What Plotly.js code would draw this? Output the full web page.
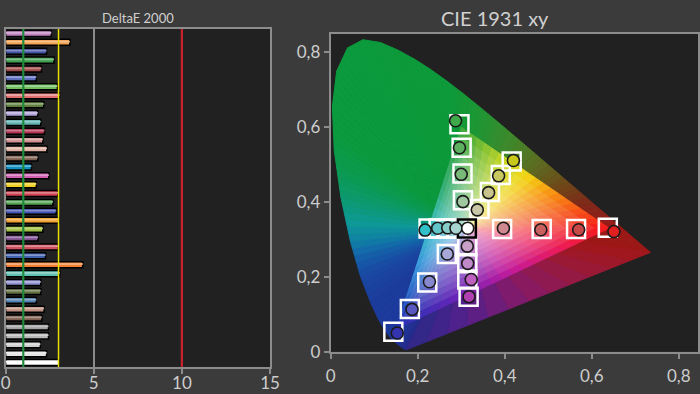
<!DOCTYPE html>
<html><head><meta charset="utf-8">
<script src="https://cdn.plot.ly/plotly-3.0.1.min.js"></script>
<style>html,body{margin:0;padding:0;background:#3b3b3b;}#chart{width:700px;height:394px;}</style>
</head><body><div id="chart"></div>
<script>
// ---- DeltaE 2000 bars (top to bottom) ----
const deltaE = [2.59,3.64,2.32,2.74,2.03,1.74,2.93,3.05,2.16,1.82,1.99,2.20,2.11,2.34,1.82,1.46,2.45,1.74,2.97,
                2.68,2.87,3.03,2.11,1.84,2.99,2.26,4.37,3.07,1.99,1.99,1.74,2.18,2.05,2.43,2.43,1.97,2.32,3.03];
const barColors = ['#c080c0','#f0a050','#4050a0','#40a050','#a04848','#6070c0','#70c060','#e07070','#608040','#b0a0d8',
                   '#60b0b0','#b03050','#d09090','#e0b0a0','#806050','#1090c0','#d060b0','#f0d020','#d04050',
                   '#50a050','#4050b0','#f0a030','#a0c040','#805090','#d05060','#4060b0','#f08030','#60c0b0','#9090d0',
                   '#607040','#5080b0','#c09080','#806050','#a0a0a0','#b8b8b8','#d0d0d0','#e4e4e4','#ffffff'];
const deTicks = [0,5,10,15];
const refLines = [1,3,10];
const refLineColors = ['#1f8a3c','#e8e000','#c8202c'];

// ---- CIE 1931 xy: targets (squares) and measurements (circles) ----
const targetX = [0.296,0.301,0.303,0.304, 0.416,0.391,0.366,0.342, 0.394,0.485,0.564,0.637, 0.225,0.248,0.270,0.290, 0.267,0.222,0.182,0.144, 0.314,0.314,0.314,0.317, 0.313];
const targetY = [0.608,0.545,0.476,0.405, 0.508,0.472,0.427,0.381, 0.328,0.328,0.328,0.331, 0.329,0.329,0.329,0.329, 0.261,0.185,0.114,0.053, 0.282,0.236,0.193,0.147, 0.329];
const measX   = [0.287,0.296,0.300,0.304, 0.420,0.386,0.363,0.337, 0.397,0.483,0.570,0.651, 0.217,0.246,0.269,0.288, 0.268,0.227,0.187,0.153, 0.314,0.315,0.323,0.318, 0.315];
const measY   = [0.617,0.545,0.474,0.401, 0.511,0.470,0.425,0.379, 0.330,0.326,0.326,0.321, 0.325,0.330,0.331,0.330, 0.261,0.187,0.113,0.050, 0.282,0.236,0.193,0.147, 0.330];
const pointColors = ['#3ea84a','#5cb060','#78b878','#a0c8a0', '#c8c818','#c8c860','#c8c48c','#c8c8a8',
                     '#d08890','#c86060','#c84848','#e02020', '#30c0c8','#60c4c8','#88ccc8','#a8d4d0',
                     '#a8a8d8','#8888d0','#5858c0','#3434b0', '#c8a0c8','#c088c8','#c060c0','#b040b0', '#ffffff'];
const cieTickVals = [0,0.2,0.4,0.6,0.8];
const cieTickText = ['0','0,2','0,4','0,6','0,8'];

// ---- CIE 1931 spectral locus (2 deg observer) ----
const locusWl = [380,385,390,395,400,405,410,415,420,425,430,435,440,445,450,455,460,465,470,475,480,485,490,495,500,505,510,515,520,525,530,535,540,545,550,555,560,565,570,575,580,585,590,595,600,605,610,615,620,625,630,635,640,645,650,660,680,700];
const locusX = [0.1741,0.1740,0.1738,0.1736,0.1733,0.1730,0.1726,0.1721,0.1714,0.1703,0.1689,0.1669,0.1644,0.1611,0.1566,0.1510,0.1440,0.1355,0.1241,0.1096,0.0913,0.0687,0.0454,0.0235,0.0082,0.0039,0.0139,0.0389,0.0743,0.1142,0.1547,0.1929,0.2296,0.2658,0.3016,0.3373,0.3731,0.4087,0.4441,0.4788,0.5125,0.5448,0.5752,0.6029,0.6270,0.6482,0.6658,0.6801,0.6915,0.7006,0.7079,0.7140,0.7190,0.7230,0.7260,0.7300,0.7334,0.7347];
const locusY = [0.0050,0.0050,0.0049,0.0049,0.0048,0.0048,0.0048,0.0048,0.0051,0.0058,0.0069,0.0086,0.0109,0.0138,0.0177,0.0227,0.0297,0.0399,0.0578,0.0868,0.1327,0.2007,0.2950,0.4127,0.5384,0.6548,0.7502,0.8120,0.8338,0.8262,0.8059,0.7816,0.7543,0.7243,0.6923,0.6589,0.6245,0.5896,0.5547,0.5202,0.4866,0.4544,0.4242,0.3965,0.3725,0.3514,0.3340,0.3197,0.3083,0.2993,0.2920,0.2859,0.2809,0.2770,0.2740,0.2700,0.2666,0.2653];
const gamutX = [0.64,0.30,0.15];
const gamutY = [0.33,0.60,0.06];
const whiteX = 0.3127, whiteY = 0.3290;

// ---- colour helpers (styling only) ----
function h2r(h){return [parseInt(h.slice(1,3),16),parseInt(h.slice(3,5),16),parseInt(h.slice(5,7),16)];}
function ramp(stops,t){
  if(t<=stops[0][0]) return stops[0][1];
  for(let i=1;i<stops.length;i++){
    if(t<=stops[i][0]){
      const a=stops[i-1],b=stops[i],f=(t-a[0])/(b[0]-a[0]);
      const ca=h2r(a[1]),cb=h2r(b[1]);
      return 'rgb('+ca.map((v,k)=>Math.round(v+(cb[k]-v)*f)).join(',')+')';
    }
  }
  return stops[stops.length-1][1];
}
function lighten(h,f){const c=h2r(h);return 'rgb('+c.map(v=>Math.round(v+(255-v)*f)).join(',')+')';}
const outerStops = [[380,'#2c2888'],[430,'#262c8c'],[455,'#203496'],[470,'#1c3a9c'],[480,'#1c3c9c'],[485,'#1a48a2'],[488,'#1464aa'],[490,'#1080a4'],[492,'#0e9898'],[495,'#0c9a70'],[498,'#0b9a50'],[502,'#0b9a3e'],[545,'#0c9a3a'],[556,'#1e9634'],[566,'#3c8a2c'],[575,'#5a7022'],[585,'#6e4a18'],[595,'#80281a'],[610,'#9a1a18'],[700,'#a21818']];
const purpleStops = [[0,'#a21818'],[0.25,'#981a3c'],[0.5,'#861a66'],[0.75,'#56208a'],[1,'#2c2888']];
const edgeStops = [
  [[0,'#f41c1c'],[0.2,'#f65a18'],[0.4,'#f8a014'],[0.55,'#f2d818'],[0.7,'#c8d828'],[1,'#3aa840']],
  [[0,'#3aa840'],[0.3,'#38b078'],[0.5,'#40c0c8'],[0.7,'#3c98dc'],[1,'#2434b4']],
  [[0,'#2434b4'],[0.3,'#6c24b8'],[0.55,'#c41c9c'],[0.8,'#ec1c58'],[1,'#f41c1c']]
];

const traces = [];
function wedge(x1,y1,x2,y2,col){
  traces.push({type:'scatter',mode:'lines',xaxis:'x2',yaxis:'y2',x:[whiteX,x1,x2,whiteX],y:[whiteY,y1,y2,whiteY],
    fill:'toself',fillcolor:col,line:{color:col,width:1},hoverinfo:'skip'});
}
// outer horseshoe fan (segments split for a smoother gradient)
for(let i=0;i<locusX.length-1;i++){
  const dx=locusX[i+1]-locusX[i],dy=locusY[i+1]-locusY[i];
  const m=Math.max(1,Math.ceil(Math.hypot(dx,dy)/0.02));
  for(let j=0;j<m;j++){
    const t0=j/m,t1=(j+1)/m;
    wedge(locusX[i]+dx*t0,locusY[i]+dy*t0,locusX[i]+dx*t1,locusY[i]+dy*t1,
      ramp(outerStops,locusWl[i]+(locusWl[i+1]-locusWl[i])*(t0+t1)/2));
  }
}
const nP=12, n=locusX.length-1;
for(let k=0;k<nP;k++){
  const t0=k/nP,t1=(k+1)/nP;
  wedge(locusX[n]+(locusX[0]-locusX[n])*t0,locusY[n]+(locusY[0]-locusY[n])*t0,
        locusX[n]+(locusX[0]-locusX[n])*t1,locusY[n]+(locusY[0]-locusY[n])*t1,ramp(purpleStops,(t0+t1)/2));
}
// inner gamut triangle fan
const nE=20;
for(let e=0;e<3;e++){
  const ax=gamutX[e],ay=gamutY[e],bx=gamutX[(e+1)%3],by=gamutY[(e+1)%3];
  for(let k=0;k<nE;k++){
    const t0=k/nE,t1=(k+1)/nE;
    wedge(ax+(bx-ax)*t0,ay+(by-ay)*t0,ax+(bx-ax)*t1,ay+(by-ay)*t1,ramp(edgeStops[e],(t0+t1)/2));
  }
}
// whitening toward the white point
[0.9,0.8,0.7,0.6,0.5,0.41,0.33,0.25,0.18,0.11].forEach(s=>{
  const xs=gamutX.map(v=>whiteX+(v-whiteX)*s), ys=gamutY.map(v=>whiteY+(v-whiteY)*s);
  traces.push({type:'scatter',mode:'lines',xaxis:'x2',yaxis:'y2',x:xs.concat([xs[0]]),y:ys.concat([ys[0]]),
    fill:'toself',fillcolor:'rgba(255,255,255,0.1)',line:{width:0},hoverinfo:'skip'});
});
// target squares
traces.push({type:'scatter',mode:'markers',xaxis:'x2',yaxis:'y2',x:targetX,y:targetY,
  marker:{symbol:'square',size:18,color:'rgba(0,0,0,0)',line:{width:2.5,color:pointColors.map(c=>c==='#ffffff'?'#000000':'#ffffff')}},hoverinfo:'skip'});
// measured circles
traces.push({type:'scatter',mode:'markers',xaxis:'x2',yaxis:'y2',x:measX,y:measY,
  marker:{symbol:'circle',size:12,color:pointColors,line:{width:1.6,color:'#1a1a1a'}},hoverinfo:'skip'});

// bars
const barIdx = deltaE.map((v,i)=>i+1);
traces.push({type:'bar',orientation:'h',x:deltaE,y:barIdx,width:0.68,
  marker:{color:barColors,line:{color:'#000000',width:1.5}},hoverinfo:'skip'});
traces.push({type:'bar',orientation:'h',x:deltaE,y:barIdx,width:0.2,offset:-0.18,
  marker:{color:barColors.map(c=>lighten(c,0.35)),line:{width:0}},hoverinfo:'skip'});

const axisFont = {family:'Lato, "Open Sans", sans-serif',size:17,color:'#cdcdcd'};
const layout = {
  width:700,height:394,margin:{l:0,r:0,t:0,b:0},paper_bgcolor:'#3b3b3b',plot_bgcolor:'#212121',
  showlegend:false,barmode:'overlay',separators:', ',
  xaxis:{domain:[0.0081,0.3857],range:[0,15],tickvals:deTicks,showgrid:true,gridcolor:'#8c8c8c',gridwidth:1.5,
    zeroline:false,showline:true,linecolor:'#8c8c8c',linewidth:2,mirror:true,ticks:'outside',ticklen:5,tickwidth:2,
    tickcolor:'#8c8c8c',tickfont:axisFont,ticklabelstandoff:-5,fixedrange:true},
  yaxis:{domain:[0.0685,0.9264],range:[38.5,0.5],showticklabels:false,showgrid:false,zeroline:false,
    showline:true,linecolor:'#8c8c8c',linewidth:2,mirror:true,ticks:'',fixedrange:true},
  xaxis2:{anchor:'y2',domain:[0.4724,0.9976],range:[0,0.845],tickvals:cieTickVals,ticktext:cieTickText,showgrid:false,
    zeroline:false,showline:true,linecolor:'#8c8c8c',linewidth:2,mirror:true,ticks:'outside',ticklen:5,tickwidth:2,
    tickcolor:'#8c8c8c',tickfont:axisFont,ticklabelstandoff:3,fixedrange:true},
  yaxis2:{anchor:'x2',domain:[0.1074,0.9137],range:[0,0.849],tickvals:cieTickVals,ticktext:cieTickText,showgrid:false,
    zeroline:false,showline:true,linecolor:'#8c8c8c',linewidth:2,mirror:true,ticks:'outside',ticklen:5,tickwidth:2,
    tickcolor:'#8c8c8c',tickfont:axisFont,fixedrange:true},
  shapes: refLines.map((v,i)=>({type:'line',xref:'x',yref:'y domain',x0:v,x1:v,y0:0,y1:1,
    line:{color:refLineColors[i],width:i===1?1.5:2.2},layer:'above'})),
  annotations:[
    {text:'DeltaE 2000',xref:'paper',yref:'paper',x:138/700,y:(394-18)/394,showarrow:false,xanchor:'center',yanchor:'middle',
     font:{family:'Lato, "Open Sans", sans-serif',size:13,color:'#d0d0d0'}},
    {text:'CIE 1931 xy',xref:'paper',yref:'paper',x:495/700,y:(394-18)/394,showarrow:false,xanchor:'center',yanchor:'middle',
     font:{family:'Lato, "Open Sans", sans-serif',size:20,color:'#d0d0d0'}}
  ]
};
Plotly.newPlot('chart',traces,layout,{staticPlot:true,displayModeBar:false});
</script></body></html>
